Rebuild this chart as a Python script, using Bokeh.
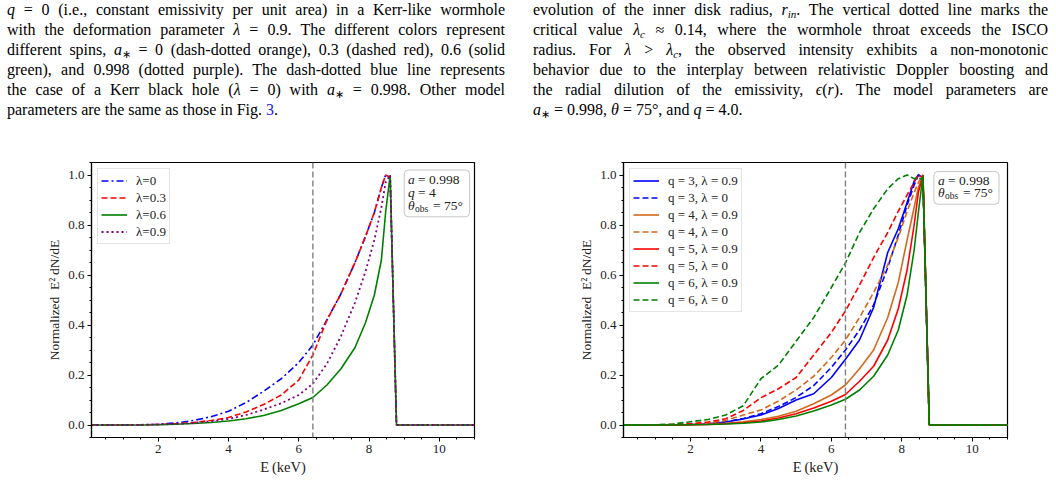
from bokeh.plotting import figure
from bokeh.layouts import column, row
from bokeh.models import (Div, Span, Label, BoxAnnotation, SingleIntervalTicker,
                          PrintfTickFormatter)
from bokeh.embed import file_html
from bokeh.resources import INLINE

# ---------------- data ----------------
energy = [0.1, 1.0, 1.5, 2.0, 2.5, 3.0, 3.5, 4.0, 4.5, 5.0, 5.5, 6.0, 6.4,
          6.8, 7.2, 7.6, 7.9, 8.15, 8.35, 8.47, 8.6, 8.78, 11.0]

# left panel: lambda series
lam_labels = ["λ=0", "λ=0.3", "λ=0.6", "λ=0.9"]
lam_0 = [0.0, 0.0, 0.001, 0.003, 0.008, 0.018, 0.033, 0.055, 0.09, 0.135, 0.185,
         0.25, 0.32, 0.42, 0.525, 0.65, 0.755, 0.85, 0.95, 1.0, 0.99, 0.0, 0.0]
lam_03 = [0.0, 0.0, 0.001, 0.002, 0.005, 0.01, 0.018, 0.03, 0.052, 0.082, 0.12,
          0.18, 0.28, 0.42, 0.525, 0.65, 0.755, 0.85, 0.95, 1.0, 0.99, 0.0, 0.0]
lam_06 = [0.0, 0.0, 0.0, 0.001, 0.003, 0.006, 0.01, 0.016, 0.025, 0.038, 0.058,
          0.085, 0.11, 0.16, 0.225, 0.31, 0.41, 0.52, 0.66, 0.85, 1.0, 0.0, 0.0]
lam_09 = [0.0, 0.0, 0.0, 0.002, 0.004, 0.008, 0.015, 0.024, 0.04, 0.062, 0.087,
          0.12, 0.165, 0.245, 0.355, 0.49, 0.615, 0.74, 0.87, 0.97, 1.0, 0.0, 0.0]

# right panel: emissivity index series
q_labels = ["q = 3, λ = 0.9", "q = 3, λ = 0", "q = 4, λ = 0.9", "q = 4, λ = 0",
            "q = 5, λ = 0.9", "q = 5, λ = 0", "q = 6, λ = 0.9", "q = 6, λ = 0"]
q3_l09 = [0.0, 0.0, 0.001, 0.002, 0.005, 0.012, 0.024, 0.04, 0.066, 0.1, 0.125,
          0.19, 0.263, 0.34, 0.47, 0.69, 0.785, 0.89, 0.975, 1.0, 0.99, 0.0, 0.0]
q3_l0 = [0.0, 0.0, 0.001, 0.002, 0.006, 0.013, 0.026, 0.045, 0.074, 0.11, 0.158,
         0.23, 0.30, 0.38, 0.48, 0.63, 0.76, 0.88, 0.96, 1.0, 0.99, 0.0, 0.0]
q4_l09 = [0.0, 0.0, 0.0, 0.001, 0.003, 0.007, 0.013, 0.022, 0.035, 0.055, 0.085,
          0.12, 0.16, 0.225, 0.3, 0.43, 0.57, 0.74, 0.87, 0.95, 1.0, 0.0, 0.0]
q4_l0 = [0.0, 0.0, 0.001, 0.003, 0.008, 0.018, 0.04, 0.06, 0.096, 0.14, 0.195,
         0.27, 0.34, 0.43, 0.53, 0.64, 0.75, 0.854, 0.93, 0.97, 1.0, 0.0, 0.0]
q5_l09 = [0.0, 0.0, 0.0, 0.001, 0.002, 0.005, 0.009, 0.016, 0.028, 0.045, 0.068,
          0.095, 0.122, 0.175, 0.235, 0.34, 0.465, 0.62, 0.8, 0.93, 1.0, 0.0, 0.0]
q5_l0 = [0.0, 0.0, 0.002, 0.005, 0.012, 0.025, 0.058, 0.109, 0.145, 0.19, 0.28,
         0.37, 0.456, 0.56, 0.67, 0.77, 0.855, 0.92, 0.97, 1.0, 0.99, 0.0, 0.0]
q6_l09 = [0.0, 0.0, 0.0, 0.001, 0.002, 0.004, 0.007, 0.012, 0.022, 0.036, 0.056,
          0.08, 0.103, 0.14, 0.195, 0.28, 0.38, 0.52, 0.7, 0.85, 1.0, 0.0, 0.0]
q6_l0 = [0.0, 0.001, 0.004, 0.013, 0.022, 0.04, 0.077, 0.185, 0.24, 0.335, 0.43,
         0.55, 0.648, 0.77, 0.865, 0.945, 0.985, 1.0, 0.985, 0.99, 0.98, 0.0, 0.0]

fe_line = 6.4
x_ticks_step = 2
y_ticks_step = 0.2

FONT = "Liberation Serif"
TXT = "#222222"

# ---------------- text paragraphs ----------------
left_lines = [
    "<i>q</i> = 0 (i.e., constant emissivity per unit area) in a Kerr-like wormhole",
    "with the deformation parameter <i>λ</i> = 0.9. The different colors represent",
    "different spins, <i>a</i><sub>∗</sub> = 0 (dash-dotted orange), 0.3 (dashed red), 0.6 (solid",
    "green), and 0.998 (dotted purple). The dash-dotted blue line represents",
    "the case of a Kerr black hole (<i>λ</i> = 0) with <i>a</i><sub>∗</sub> = 0.998. Other model",
    "parameters are the same as those in Fig. <span style='color:#2020e0'>3</span>.",
]
right_lines = [
    "evolution of the inner disk radius, <i>r<sub>in</sub></i>. The vertical dotted line marks the",
    "critical value <i>λ<sub>c</sub></i> ≈ 0.14, where the wormhole throat exceeds the ISCO",
    "radius. For <i>λ</i> &gt; <i>λ<sub>c</sub></i>, the observed intensity exhibits a non-monotonic",
    "behavior due to the interplay between relativistic Doppler boosting and",
    "the radial dilution of the emissivity, <i>ϵ</i>(<i>r</i>). The model parameters are",
    "<i>a</i><sub>∗</sub> = 0.998, <i>θ</i> = 75°, and <i>q</i> = 4.0.",
]


def para_html(lines, left, width):
    sub = "<style>sub{font-size:11px;line-height:0;vertical-align:-3px;}</style>"
    h = sub + (f"<div style=\"font-family:'{FONT}',serif;font-size:16px;line-height:20px;"
               f"color:#000;margin-left:{left}px;width:{width}px;\">")
    for i, ln in enumerate(lines):
        last = "justify" if i < len(lines) - 1 else "left"
        h += f"<div style='text-align:justify;text-align-last:{last};'>{ln}</div>"
    h += "</div>"
    return h


div_l = Div(text=para_html(left_lines, 7, 498), width=528, height=140, margin=0)
div_r = Div(text=para_html(right_lines, 5, 515), width=528, height=140, margin=0)


# ---------------- figures ----------------
def make_fig(bl, br, bt, bb):
    p = figure(width=528, height=348, x_range=(0.1, 11), y_range=(-0.05, 1.05),
               output_backend="svg", toolbar_location=None,
               min_border_left=bl, min_border_right=br, min_border_top=bt,
               min_border_bottom=bb)
    p.xgrid.visible = False
    p.ygrid.visible = False
    p.outline_line_color = "black"
    p.outline_line_width = 1.2
    p.xaxis.ticker = SingleIntervalTicker(interval=x_ticks_step, num_minor_ticks=4)
    p.yaxis.ticker = SingleIntervalTicker(interval=y_ticks_step, num_minor_ticks=4)
    p.xaxis.formatter = PrintfTickFormatter(format="%d")
    p.yaxis.formatter = PrintfTickFormatter(format="%.1f")
    for ax in (p.xaxis, p.yaxis):
        ax.axis_line_color = "black"
        ax.axis_line_width = 1.2
        ax.major_tick_line_color = "black"
        ax.minor_tick_line_color = "black"
        ax.major_tick_in = 0
        ax.major_tick_out = 4
        ax.minor_tick_in = 0
        ax.minor_tick_out = 2
        ax.major_label_text_font = FONT
        ax.major_label_text_font_size = "13px"
        ax.major_label_text_color = TXT
        ax.axis_label_text_font = FONT
        ax.axis_label_text_font_size = "13.5px"
        ax.axis_label_text_font_style = "normal"
        ax.axis_label_text_color = TXT
        ax.major_label_standoff = 3
        ax.axis_label_standoff = 3
    p.xaxis.axis_label = "E\u2009(keV)"
    p.xaxis.axis_label_text_font_size = "14.5px"
    p.yaxis.axis_label = "Normalized\u2002E²\u2009dN/dE"
    p.add_layout(Span(location=fe_line, dimension="height", line_color="#808080",
                      line_dash="6 3", line_width=1.4))
    return p


def style_legend(p):
    lg = p.legend[0]
    lg.location = "top_left"
    lg.margin = 6
    lg.padding = 3
    lg.spacing = 0
    lg.glyph_width = 26
    lg.glyph_height = 17
    lg.label_height = 17
    lg.label_standoff = 9
    lg.label_text_font = FONT
    lg.label_text_font_size = "13px"
    lg.label_text_color = TXT
    lg.border_line_color = "#cccccc"
    lg.border_line_width = 1
    lg.background_fill_alpha = 0.85


def info_box(p, left, right, top, bottom, lines, x_text, ys):
    p.add_layout(BoxAnnotation(left=left, right=right, top=top, bottom=bottom,
                               fill_color="white", fill_alpha=1.0,
                               line_color="#444444", line_width=1,
                               border_radius=4))
    fs = "13.5px"
    for (kind, txt), y in zip(lines, ys):
        if kind == "theta":
            p.add_layout(Label(x=x_text, y=y, text="θ", text_font=FONT,
                               text_font_style="italic", text_font_size=fs,
                               text_baseline="middle", text_color=TXT))
            p.add_layout(Label(x=x_text, y=y, x_offset=7, y_offset=-4, text="obs",
                               text_font=FONT, text_font_size="9.5px",
                               text_baseline="middle", text_color=TXT))
            p.add_layout(Label(x=x_text, y=y, x_offset=25, text=txt, text_font=FONT,
                               text_font_size=fs, text_baseline="middle",
                               text_color=TXT))
        else:
            var, rest = txt
            p.add_layout(Label(x=x_text, y=y, text=var, text_font=FONT,
                               text_font_style="italic", text_font_size=fs,
                               text_baseline="middle", text_color=TXT))
            p.add_layout(Label(x=x_text, y=y, x_offset=10, text=rest, text_font=FONT,
                               text_font_size=fs, text_baseline="middle",
                               text_color=TXT))


# left panel
p1 = make_fig(91, 54, 22, 41)
p1.line(energy, lam_0, line_color="#0000ff", line_width=1.6,
        line_dash="7 3 2 3", legend_label=lam_labels[0])
p1.line(energy, lam_03, line_color="#ff0000", line_width=1.6,
        line_dash="6 3", legend_label=lam_labels[1])
p1.line(energy, lam_06, line_color="#008000", line_width=1.6,
        legend_label=lam_labels[2])
p1.line(energy, lam_09, line_color="#800080", line_width=1.8,
        line_dash="2 3", legend_label=lam_labels[3])
style_legend(p1)
info_box(p1, 9.0, 10.86, 1.02, 0.833,
         [("v", ("a", "= 0.998")), ("v", ("q", "= 4")), ("theta", "= 75°")],
         9.11, [0.982, 0.932, 0.879])

# right panel
p2 = make_fig(95, 49, 12, 51)
series = [(q3_l09, "#0000ff", None), (q3_l0, "#0000ff", "6 3"),
          (q4_l09, "#d2691e", None), (q4_l0, "#d2691e", "6 3"),
          (q5_l09, "#ff0000", None), (q5_l0, "#ff0000", "6 3"),
          (q6_l09, "#008000", None), (q6_l0, "#008000", "6 3")]
for (ys, col, dash), lab in zip(series, q_labels):
    if dash is None:
        p2.line(energy, ys, line_color=col, line_width=1.6, legend_label=lab)
    else:
        p2.line(energy, ys, line_color=col, line_width=1.6, line_dash=dash,
                legend_label=lab)
style_legend(p2)
info_box(p2, 8.91, 10.76, 1.014, 0.883,
         [("v", ("a", "= 0.998")), ("theta", "= 75°")],
         9.03, [0.979, 0.931])

layout = column(row(div_l, div_r, spacing=0), row(p1, p2, spacing=0), spacing=0)

open("out.html", "w").write(file_html(layout, INLINE))
